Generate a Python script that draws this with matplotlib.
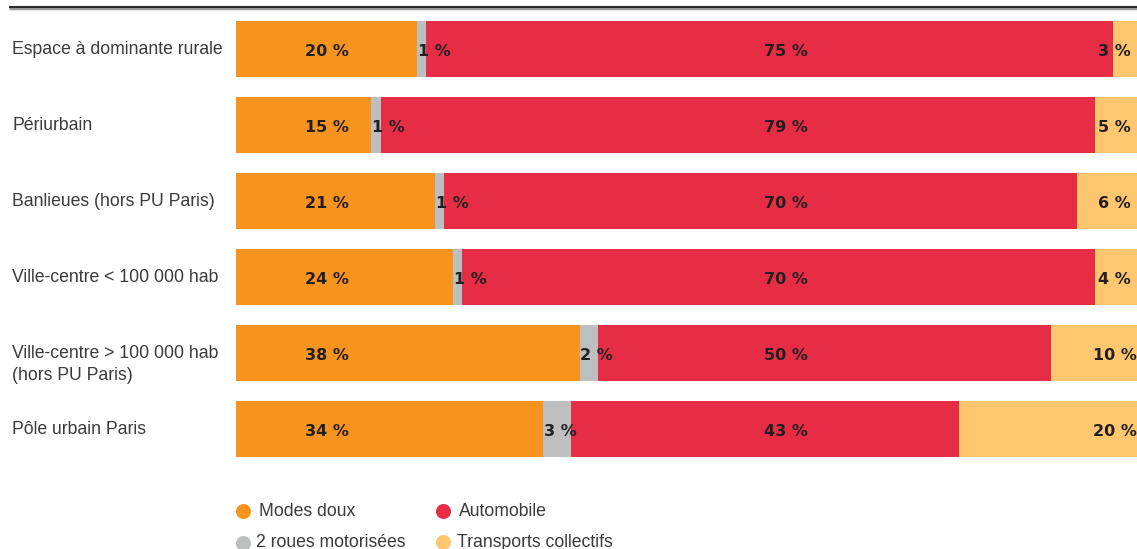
#Stacked horizontal bars: modal share by type of area
import matplotlib
matplotlib.use('Agg')
import matplotlib.pyplot as plt
from matplotlib.lines import Line2D

categories = ['Espace à dominante rurale', 'Périurbain', 'Banlieues (hors PU Paris)',
              'Ville-centre < 100 000 hab', 'Ville-centre > 100 000 hab\n(hors PU Paris)',
              'Pôle urbain Paris']
series = ['Modes doux', '2 roues motorisées', 'Automobile', 'Transports collectifs']
colors = ['#f7941d', '#bcbec0', '#e72d46', '#fec66f']

#bar lengths (in %)
modes_doux = [20.0, 14.9, 22.0, 24.0, 38.0, 34.0]
deux_roues = [1.0, 1.1, 1.0, 1.0, 2.0, 3.1]
automobile = [76.0, 79.0, 70.0, 70.0, 50.1, 42.9]
transports = [3.0, 5.0, 7.0, 5.0, 9.9, 20.0]

#printed labels
lab_doux = [20, 15, 21, 24, 38, 34]
lab_2r = [1, 1, 1, 1, 2, 3]
lab_auto = [75, 79, 70, 70, 50, 43]
lab_tc = [3, 5, 6, 4, 10, 20]

W, H = 1137, 549
fig = plt.figure(figsize=(W / 100, H / 100), dpi=100)
#axes runs a bit past the right edge, like the cropped original
ax = fig.add_axes([236 / W, 1 - 457 / H, 904 / W, 436 / H])

values = [modes_doux, deux_roues, automobile, transports]
ypos = list(range(len(categories)))
left = [0] * len(categories)
for vals, col, name in zip(values, colors, series):
    ax.barh(ypos, vals, left=left, height=56 / 76, color=col, label=name)
    left = [l + v for l, v in zip(left, vals)]

ax.set_xlim(0, 100)
ax.set_ylim(5 + 28 / 76, -28 / 76)
ax.axis('off')

bold = dict(family='DejaVu Sans', fontweight='bold', fontsize=11.5, color='#231f20', va='baseline')
dy = 7 / 76
for i in ypos:
    ax.text(10.1, i + dy, f"{lab_doux[i]} %", ha='center', **bold)
    ax.text(modes_doux[i] + 0.1, i + dy, f"{lab_2r[i]} %", ha='left', **bold)
    ax.text(60.8, i + dy, f"{lab_auto[i]} %", ha='center', **bold)
    ax.text(97.2, i + dy, f"{lab_tc[i]} %", ha='center', **bold)

#category labels on the left, in figure pixels
reg = dict(family='Liberation Sans', fontsize=12.7, color='#3a3a3a', va='baseline')
for i, cat in enumerate(categories):
    base = 49 + 76 * i + 4.5
    for j, line in enumerate(cat.split('\n')):
        fig.text(12 / W, 1 - (base + 22 * j) / H, line, ha='left', **reg)

#top rule (gray underneath, dark on top)
fig.add_artist(Line2D([9 / W, 1], [1 - 7.6 / H] * 2, color='#9a9a9a', lw=2.5, solid_capstyle='butt'))
fig.add_artist(Line2D([9 / W, 1], [1 - 7.0 / H] * 2, color='#2b2b2b', lw=1.5, solid_capstyle='butt'))

#legend drawn by hand
leg = [(243, 511, 259, 516, 0), (443, 510.5, 459, 516, 2),
       (243, 543, 256, 547, 1), (443, 542, 457, 547, 3)]
for cx, cy, tx, ty, k in leg:
    fig.add_artist(Line2D([cx / W], [1 - cy / H], marker='o', markersize=10.8,
                          color=colors[k], markeredgewidth=0))
    fig.text(tx / W, 1 - ty / H, series[k], ha='left', **reg)

plt.savefig('out.png', dpi=100)
